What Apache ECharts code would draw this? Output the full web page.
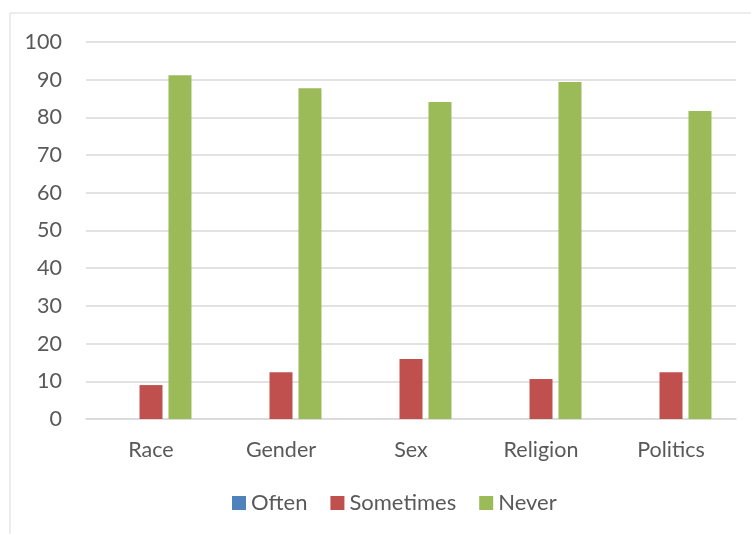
<!DOCTYPE html>
<html>
<head>
<meta charset="utf-8">
<style>
  html, body { margin: 0; padding: 0; background: #fff; }
  #chart { width: 751px; height: 534px; }
</style>
<script src="https://cdn.jsdelivr.net/npm/echarts@6/dist/echarts.min.js"></script>
</head>
<body>
<div id="chart"></div>
<script>
// categories and values
const categories = ['Race', 'Gender', 'Sex', 'Religion', 'Politics'];
const often = [0, 0, 0, 0, 0];
const sometimes = [9.0, 12.4, 15.9, 10.6, 12.4];
const never = [91.2, 87.7, 84.1, 89.4, 81.7];

const textColor = '#595959';
const font = 'Lato, "Open Sans", sans-serif';
const fontSize = 21.5;

const myChart = echarts.init(document.getElementById('chart'));
const option = {
    animation: false,
    textStyle: { fontFamily: font },
    graphic: [{
        type: 'rect',
        shape: { x: 10, y: 13, width: 760, height: 540 },
        style: { fill: 'none', stroke: '#d9d9d9', lineWidth: 1 },
        silent: true
    }],
    grid: { left: 86, right: 15, top: 42, bottom: 115 },
    legend: {
        bottom: 15,
        left: 227,
        itemWidth: 14,
        itemHeight: 14,
        itemGap: 23,
        icon: 'rect',
        textStyle: { color: textColor, fontSize: 22, fontFamily: font, padding: [0, 0, 0, 0] },
        data: ['Often', 'Sometimes', 'Never']
    },
    xAxis: {
        type: 'category',
        data: categories,
        axisLine: { lineStyle: { color: '#d9d9d9', width: 1.5 } },
        axisTick: { show: false },
        axisLabel: { color: textColor, fontSize: fontSize, fontFamily: font, margin: 20 }
    },
    yAxis: {
        type: 'value',
        min: 0,
        max: 100,
        interval: 10,
        axisLine: { show: false },
        axisTick: { show: false },
        axisLabel: { color: textColor, fontSize: fontSize, fontFamily: font, margin: 24 },
        splitLine: { lineStyle: { color: '#d9d9d9', width: 1.5 } }
    },
    series: [
        { name: 'Often', type: 'bar', data: often, barWidth: 23, barGap: '26%', itemStyle: { color: '#4f81bd' } },
        { name: 'Sometimes', type: 'bar', data: sometimes, barWidth: 23, barGap: '26%', itemStyle: { color: '#c0504d' } },
        { name: 'Never', type: 'bar', data: never, barWidth: 23, barGap: '26%', itemStyle: { color: '#9bbb59' } }
    ]
};
myChart.setOption(option);
</script>
</body>
</html>
